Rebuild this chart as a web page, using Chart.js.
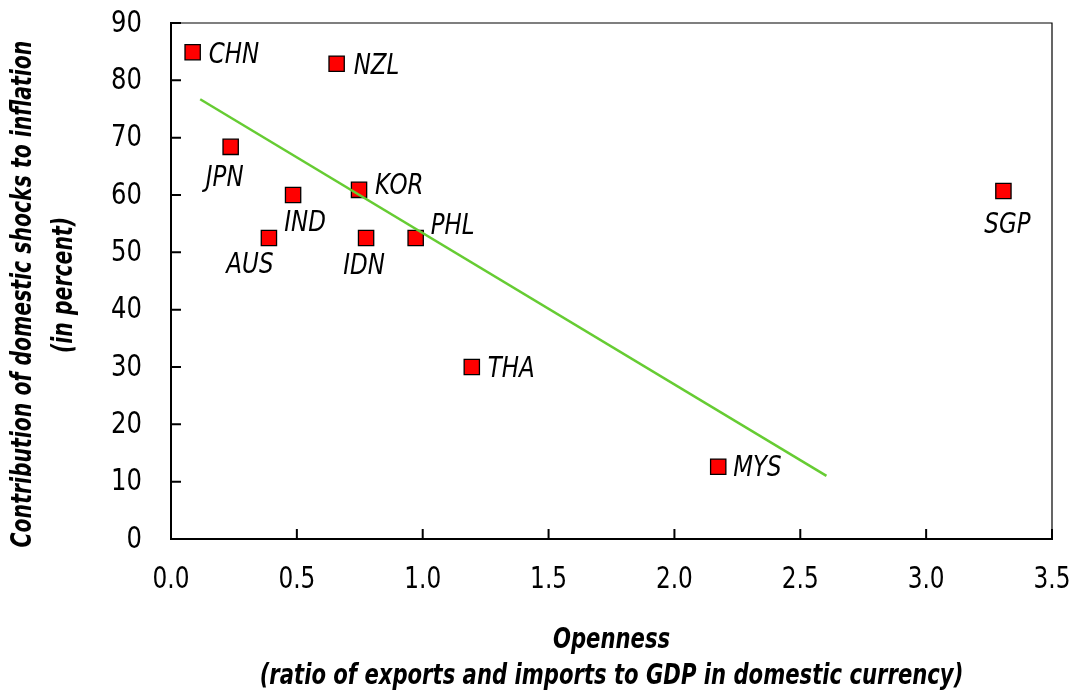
<!DOCTYPE html>
<html lang="en">
<head>
  <meta charset="UTF-8">
  <title>Openness vs domestic shocks</title>
  <script src="https://cdn.jsdelivr.net/npm/chart.js"></script>
  <style>
    html, body {
      margin: 0;
      padding: 0;
      background: #ffffff;
    }
    #wrap {
      width: 1076px;
      height: 692px;
    }
  </style>
</head>
<body>
  <div id="wrap"><canvas id="chart"></canvas></div>

  <script>
    // data
    const countries = ['CHN', 'NZL', 'JPN', 'IND', 'KOR', 'AUS', 'IDN', 'PHL', 'THA', 'MYS', 'SGP'];
    const openness = [0.086, 0.658, 0.237, 0.485, 0.747, 0.389, 0.775, 0.972, 1.195, 2.174, 3.307];
    const domesticShare = [84.9, 82.9, 68.4, 60.0, 60.9, 52.5, 52.5, 52.5, 30.0, 12.6, 60.7];
    const trendX = [0.116, 2.604];
    const trendY = [76.7, 11.0];
    const xRange = [0, 3.5];
    const yRange = [0, 90];
    const xTitle = ['Openness', '(ratio of exports and imports to GDP in domestic currency)'];
    const yTitle = ['Contribution of domestic shocks to inflation', '(in percent)'];

    const FONT = '"DejaVu Sans Condensed", "Liberation Sans", sans-serif';

    // where each country label sits relative to its marker
    const labelPlace = {
      CHN: { dx: 16, dy: 0, align: 'left' },
      NZL: { dx: 17, dy: 0, align: 'left' },
      JPN: { dx: -6, dy: 29, align: 'center' },
      IND: { dx: 12, dy: 25, align: 'center' },
      KOR: { dx: 16, dy: -6, align: 'left' },
      AUS: { dx: -19, dy: 24, align: 'center' },
      IDN: { dx: -2, dy: 25, align: 'center' },
      PHL: { dx: 15, dy: -15, align: 'left' },
      THA: { dx: 16, dy: -1, align: 'left' },
      MYS: { dx: 15, dy: -1, align: 'left' },
      SGP: { dx: 4, dy: 32, align: 'center' }
    };

    const points = countries.map((c, i) => ({ x: openness[i], y: domesticShare[i] }));
    const trend = trendX.map((x, i) => ({ x: x, y: trendY[i] }));

    // draw text squeezed sideways, to get close to the narrow font of the original
    function narrowText(ctx, text, x, y, font, sx, align, rot) {
      ctx.save();
      ctx.translate(x, y);
      if (rot) ctx.rotate(rot);
      ctx.scale(sx, 1);
      ctx.font = font;
      ctx.textAlign = align;
      ctx.fillText(text, 0, 0);
      ctx.restore();
    }

    // inward tick marks + top/right frame
    const framePlugin = {
      id: 'frame',
      afterDatasetsDraw(chart) {
        const ctx = chart.ctx;
        const { left, right, top, bottom } = chart.chartArea;
        const xs = chart.scales.x, ys = chart.scales.y;
        ctx.save();
        ctx.strokeStyle = '#000';
        ctx.lineWidth = 1.2;
        ctx.beginPath();
        ctx.moveTo(left, top);
        ctx.lineTo(right, top);
        ctx.lineTo(right, bottom);
        ctx.stroke();
        ctx.lineWidth = 2;
        ctx.beginPath();
        xs.ticks.forEach(t => {
          const px = xs.getPixelForValue(t.value);
          ctx.moveTo(px, bottom);
          ctx.lineTo(px, bottom - 10);
        });
        ys.ticks.forEach(t => {
          const py = ys.getPixelForValue(t.value);
          ctx.moveTo(left, py);
          ctx.lineTo(left + 10, py);
        });
        ctx.stroke();
        ctx.restore();
      }
    };

    // tick labels and axis titles
    const axisTextPlugin = {
      id: 'axisText',
      afterDraw(chart) {
        const ctx = chart.ctx;
        const { left, right, bottom } = chart.chartArea;
        const xs = chart.scales.x, ys = chart.scales.y;
        const tickFont = '30px ' + FONT;
        const titleFont = 'italic bold 28px ' + FONT;
        ctx.save();
        ctx.fillStyle = '#000';
        ctx.textBaseline = 'middle';
        xs.ticks.forEach(t => {
          narrowText(ctx, t.value.toFixed(1), xs.getPixelForValue(t.value), bottom + 41, tickFont, 0.86, 'center');
        });
        ys.ticks.forEach(t => {
          narrowText(ctx, String(t.value), left - 29, ys.getPixelForValue(t.value) + 1, tickFont, 0.9, 'right');
        });
        const cx = (left + right) / 2;
        narrowText(ctx, xTitle[0], cx, bottom + 102, titleFont, 0.84, 'center');
        narrowText(ctx, xTitle[1], cx, bottom + 138, titleFont, 0.84, 'center');
        narrowText(ctx, yTitle[0], left - 147, 294, titleFont, 0.81, 'center', -Math.PI / 2);
        narrowText(ctx, yTitle[1], left - 106, 285, titleFont, 0.81, 'center', -Math.PI / 2);
        ctx.restore();
      }
    };

    const labelPlugin = {
      id: 'countryLabels',
      afterDatasetsDraw(chart) {
        const ctx = chart.ctx;
        const meta = chart.getDatasetMeta(1);
        ctx.save();
        ctx.fillStyle = '#000';
        ctx.textBaseline = 'alphabetic';
        meta.data.forEach((el, i) => {
          const p = labelPlace[countries[i]];
          narrowText(ctx, countries[i], el.x + p.dx, el.y + p.dy + 10.5, 'italic 29px ' + FONT, 0.88, p.align);
        });
        ctx.restore();
      }
    };

    function noScalePadding(scale) {
      scale.paddingTop = 0;
      scale.paddingBottom = 0;
      scale.paddingLeft = 0;
      scale.paddingRight = 0;
    }

    new Chart(document.getElementById('chart'), {
      type: 'scatter',
      data: {
        datasets: [
          {
            label: 'Trend',
            data: trend,
            showLine: true,
            borderColor: '#66cc33',
            borderWidth: 2.5,
            pointRadius: 0,
            fill: false
          },
          {
            label: 'Countries',
            data: points,
            pointStyle: 'rect',
            pointRadius: 10.8,
            pointHoverRadius: 10.8,
            backgroundColor: '#ff0000',
            borderColor: '#000000',
            borderWidth: 1.3
          }
        ]
      },
      options: {
        responsive: true,
        maintainAspectRatio: false,
        animation: false,
        layout: { padding: { left: 0, right: 24, top: 23, bottom: 0 } },
        plugins: {
          legend: { display: false },
          tooltip: { enabled: false }
        },
        scales: {
          x: {
            type: 'linear',
            min: xRange[0],
            max: xRange[1],
            afterFit(scale) { scale.height = 153; noScalePadding(scale); },
            grid: { display: false, drawTicks: false },
            border: { display: true, color: '#000', width: 2 },
            ticks: { stepSize: 0.5, display: false },
            title: { display: false }
          },
          y: {
            type: 'linear',
            min: yRange[0],
            max: yRange[1],
            afterFit(scale) { scale.width = 171; noScalePadding(scale); },
            grid: { display: false, drawTicks: false },
            border: { display: true, color: '#000', width: 2 },
            ticks: { stepSize: 10, display: false },
            title: { display: false }
          }
        }
      },
      plugins: [framePlugin, labelPlugin, axisTextPlugin]
    });
  </script>
</body>
</html>
